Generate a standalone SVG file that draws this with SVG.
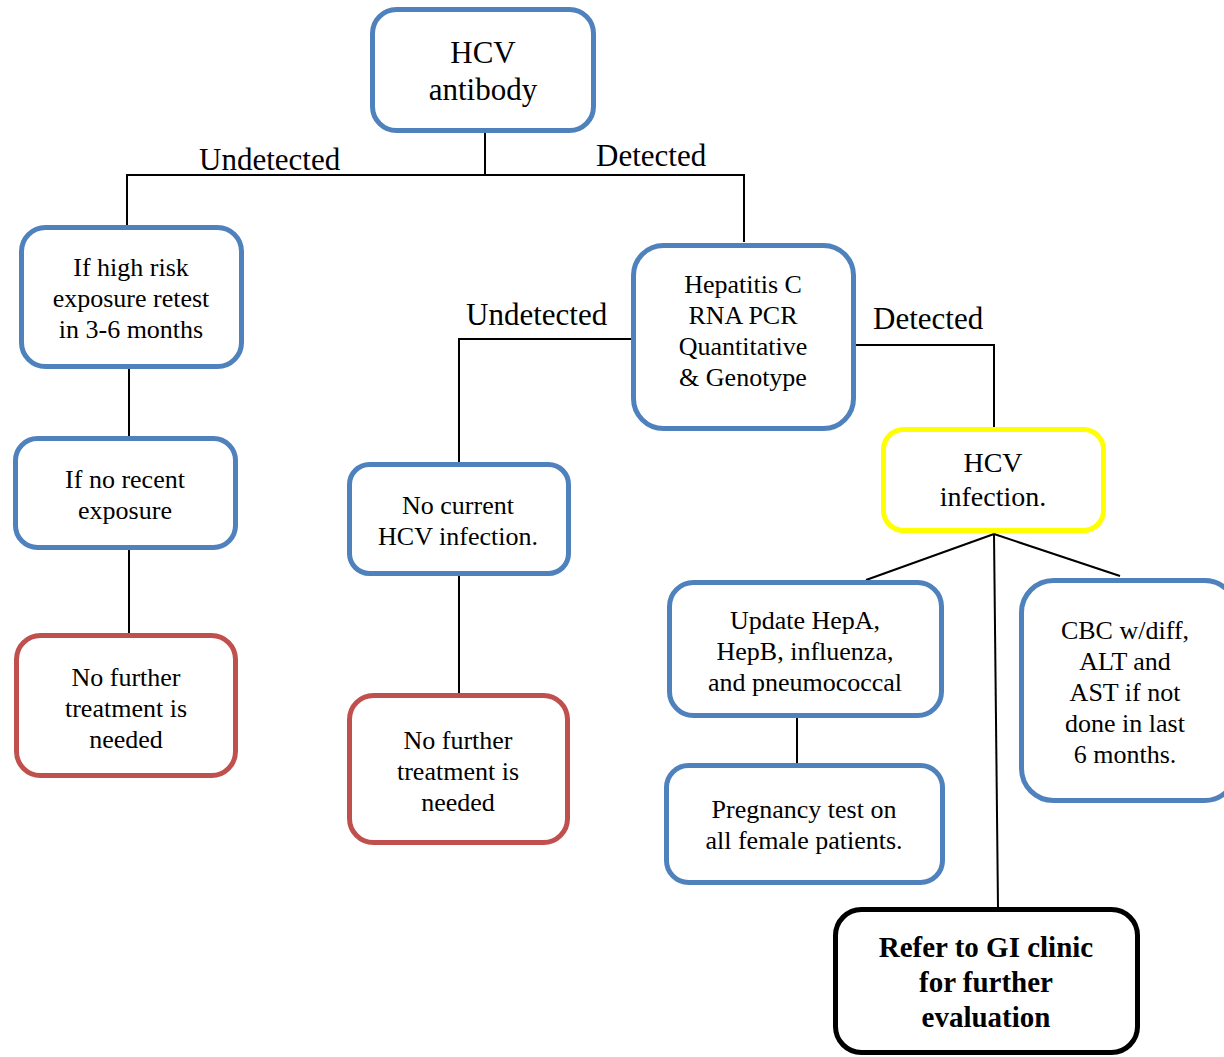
<svg xmlns="http://www.w3.org/2000/svg" width="1224" height="1057" viewBox="0 0 1224 1057">
<style>
.box{fill:#fff;stroke-width:5}
.blue{stroke:#4F81BD}
.red{stroke:#C0504D}
.yellow{stroke:#FFFF00}
.black{stroke:#000}
text{font-family:"Liberation Serif","Times New Roman",serif;fill:#000;text-anchor:middle}
.t{font-size:26px}
.lbl{font-size:31px;text-anchor:start}
.big{font-size:31px}
.mid{font-size:28px}
.bold{font-size:29px;font-weight:bold}
.conn{fill:none;stroke:#000;stroke-width:2}
</style>
<rect width="1224" height="1057" fill="#fff"/>
<g id="connectors">
<polyline class="conn" points="485,133 485,175"/>
<polyline class="conn" points="127,227 127,175 744,175 744,242"/>
<polyline class="conn" points="129,369 129,436"/>
<polyline class="conn" points="129,550 129,633"/>
<polyline class="conn" points="632,339 459,339 459,462"/>
<polyline class="conn" points="855,345 994,345 994,427"/>
<polyline class="conn" points="459,576 459,693"/>
<polyline class="conn" points="994,534 866,580"/>
<polyline class="conn" points="994,534 1120,576"/>
<polyline class="conn" points="994,534 998,907"/>
<polyline class="conn" points="797,718 797,763"/>
<text class="lbl" x="199" y="170">Undetected</text>
<text class="lbl" x="596" y="166">Detected</text>
<text class="lbl" x="466" y="325">Undetected</text>
<text class="lbl" x="873" y="329">Detected</text>
</g>
<g id="hcv-antibody">
<rect class="box blue" x="372.5" y="9.5" width="221" height="121" rx="24"/>
<text class="big" x="483" y="63">HCV</text>
<text class="big" x="483" y="100">antibody</text>
</g>
<g id="high-risk">
<rect class="box blue" x="21.5" y="227.5" width="220" height="139" rx="24"/>
<text class="t" x="131" y="276">If high risk</text>
<text class="t" x="131" y="307">exposure retest</text>
<text class="t" x="131" y="338">in 3-6 months</text>
</g>
<g id="no-recent">
<rect class="box blue" x="15.5" y="438.5" width="220" height="109" rx="22"/>
<text class="t" x="125" y="488">If no recent</text>
<text class="t" x="125" y="519">exposure</text>
</g>
<g id="no-further-1">
<rect class="box red" x="16.5" y="635.5" width="219" height="140" rx="24"/>
<text class="t" x="126" y="686">No further</text>
<text class="t" x="126" y="717">treatment is</text>
<text class="t" x="126" y="748">needed</text>
</g>
<g id="rna-pcr">
<rect class="box blue" x="633.5" y="245.5" width="220" height="183" rx="30"/>
<text class="t" x="743" y="293">Hepatitis C</text>
<text class="t" x="743" y="324">RNA PCR</text>
<text class="t" x="743" y="355">Quantitative</text>
<text class="t" x="743" y="386">&amp; Genotype</text>
</g>
<g id="no-current">
<rect class="box blue" x="349.5" y="464.5" width="219" height="109" rx="20"/>
<text class="t" x="458" y="514">No current</text>
<text class="t" x="458" y="545">HCV infection.</text>
</g>
<g id="no-further-2">
<rect class="box red" x="349.5" y="695.5" width="218" height="147" rx="24"/>
<text class="t" x="458" y="749">No further</text>
<text class="t" x="458" y="780">treatment is</text>
<text class="t" x="458" y="811">needed</text>
</g>
<g id="hcv-infection">
<rect class="box yellow" x="883.5" y="429.5" width="220" height="101" rx="20"/>
<text class="mid" x="993" y="472">HCV</text>
<text class="mid" x="993" y="506">infection.</text>
</g>
<g id="update-vaccines">
<rect class="box blue" x="669.5" y="582.5" width="272" height="133" rx="24"/>
<text class="t" x="805" y="629">Update HepA,</text>
<text class="t" x="805" y="660">HepB, influenza,</text>
<text class="t" x="805" y="691">and pneumococcal</text>
</g>
<g id="pregnancy">
<rect class="box blue" x="666.5" y="765.5" width="276" height="117" rx="22"/>
<text class="t" x="804" y="818">Pregnancy test on</text>
<text class="t" x="804" y="849">all female patients.</text>
</g>
<g id="cbc">
<rect class="box blue" x="1021.5" y="580.5" width="215" height="220" rx="32"/>
<text class="t" x="1125" y="639">CBC w/diff,</text>
<text class="t" x="1125" y="670">ALT and</text>
<text class="t" x="1125" y="701">AST if not</text>
<text class="t" x="1125" y="732">done in last</text>
<text class="t" x="1125" y="763">6 months.</text>
</g>
<g id="refer-gi">
<rect class="box black" x="835.5" y="909.5" width="302" height="143" rx="26"/>
<text class="bold" x="986" y="957">Refer to GI clinic</text>
<text class="bold" x="986" y="992">for further</text>
<text class="bold" x="986" y="1027">evaluation</text>
</g>
</svg>
